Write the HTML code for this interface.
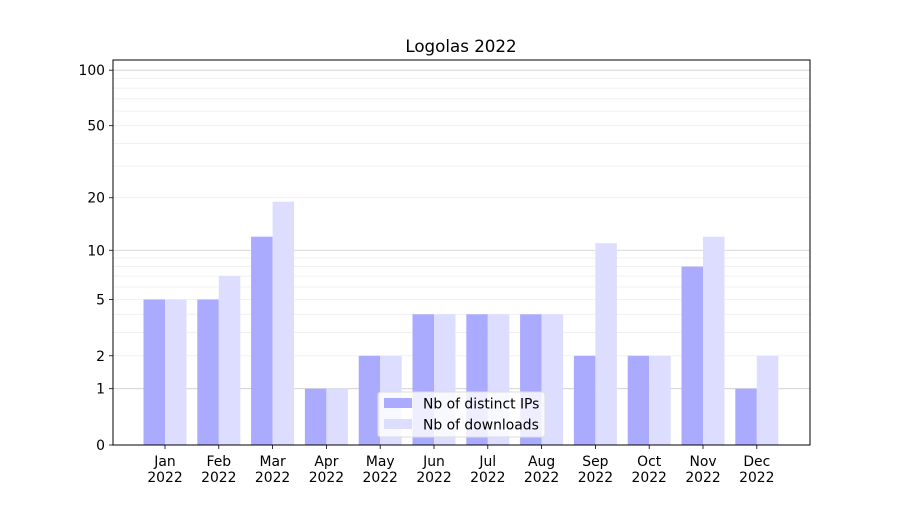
<!DOCTYPE html>
<html><head><meta charset="utf-8"><style>
body{margin:0;background:#fff;}
svg text{font-family:"DejaVu Sans","Liberation Sans",sans-serif;fill:#000;}
</style></head><body>
<svg id="chart" width="900" height="500"></svg>
<script>
const months=["Jan","Feb","Mar","Apr","May","Jun","Jul","Aug","Sep","Oct","Nov","Dec"];
const distinctIps=[5,5,12,1,2,4,4,4,2,2,8,1];
const downloads=[5,7,19,1,2,4,4,4,11,2,12,2];
const yTicks=[0,1,2,5,10,20,50,100];
const minorTicks=[3,4,6,7,8,9,30,40,60,70,80,90];
const majorGrid=[1,10,100];

const NS="http://www.w3.org/2000/svg";
const svg=document.getElementById('chart');
const L=113,R=810,T=60,B=445;
function y(v){return B-187*Math.log10(v+1);}
const step=53.8,x0=165;
function x(i){return x0+i*step;}
const bw=21.5;
function mk(tag,attrs,parent){const e=document.createElementNS(NS,tag);for(const k in attrs)e.setAttribute(k,attrs[k]);(parent||svg).appendChild(e);return e;}

const title=mk('text',{x:461,y:52,'text-anchor':'middle','font-size':16.7});
title.textContent='Logolas 2022';



minorTicks.forEach(v=>{const l=mk('line',{x1:L,x2:R,y1:y(v),y2:y(v),stroke:'#eee','stroke-width':0.8});

});
yTicks.forEach(v=>{if(v===0)return;const l=mk('line',{x1:L,x2:R,y1:y(v),y2:y(v),stroke:majorGrid.includes(v)?'#ccc':'#eee','stroke-width':0.8});

});

months.forEach((m,i)=>{
  const b1=mk('rect',{x:x(i)-bw,y:y(distinctIps[i]),width:bw,height:B-y(distinctIps[i]),fill:'#aaaaff'});
  
  
  const b2=mk('rect',{x:x(i),y:y(downloads[i]),width:bw,height:B-y(downloads[i]),fill:'#ddddff'});
  
  
  mk('line',{x1:x(i),x2:x(i),y1:B,y2:B+4,stroke:'#000','stroke-width':0.8});
  const t=mk('text',{x:x(i),y:B+21,'text-anchor':'middle','font-size':13.9});
  t.textContent=m;
  
  
  const t2=mk('text',{x:x(i),y:B+37,'text-anchor':'middle','font-size':13.9});
  t2.textContent='2022';
  
  
});

yTicks.forEach(v=>{
  mk('line',{x1:L-4,x2:L,y1:y(v),y2:y(v),stroke:'#000','stroke-width':0.8});
  const t=mk('text',{x:L-8,y:y(v)+5,'text-anchor':'end','font-size':13.9});
  t.textContent=v;
  
  
});

const frame=mk('rect',{x:L,y:T,width:R-L,height:B-T,fill:'none',stroke:'#000','stroke-width':1});



const lg=mk('g',{});


mk('rect',{x:378,y:392,width:167,height:45,rx:3,fill:'rgba(255,255,255,0.8)',stroke:'#ddd'},lg);
mk('rect',{x:384,y:398,width:28,height:10,fill:'#aaaaff'},lg);
mk('rect',{x:384,y:419,width:28,height:10,fill:'#ddddff'},lg);
const l1=mk('text',{x:423,y:408.5,'font-size':13.9},lg);l1.textContent='Nb of distinct IPs';


const l2=mk('text',{x:423,y:429.5,'font-size':13.9},lg);l2.textContent='Nb of downloads';


</script>
</body></html>
